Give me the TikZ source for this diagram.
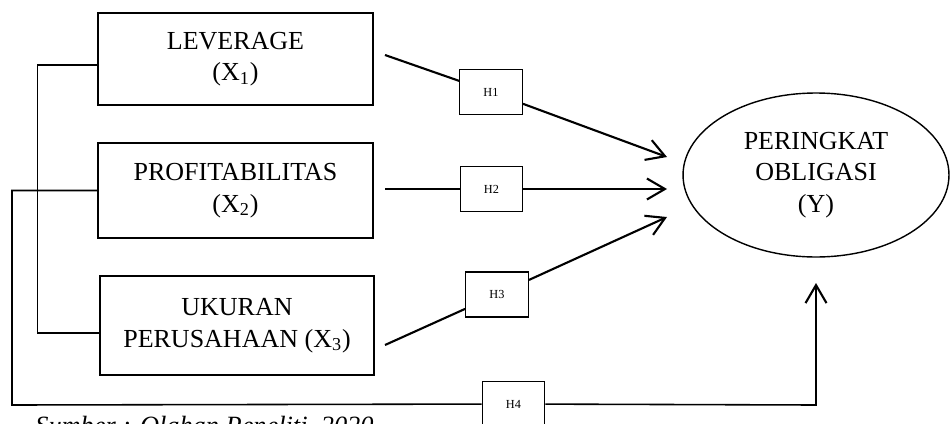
\documentclass[tikz,border=0pt]{standalone}
\usepackage{fontspec}
\setmainfont{Liberation Serif}
\usetikzlibrary{arrows.meta,shapes.geometric}

\begin{document}
\begin{tikzpicture}[x=0.02cm, y=-0.02cm,
    var/.style={draw, rectangle, line width=0.8pt, minimum width=5.5cm, align=center, font=\fontsize{14.8}{18}\selectfont},
    hyp/.style={draw, rectangle, line width=0.8pt, fill=white, minimum width=1.25cm, minimum height=0.9cm, font=\fontsize{7}{8}\selectfont},
    dep/.style={draw, ellipse, line width=0.8pt, minimum width=5.32cm, minimum height=3.28cm, inner sep=0pt, align=center, font=\fontsize{14.8}{18}\selectfont},
    path/.style={line width=1.2pt, -{Straight Barb[length=3.6mm, width=4.2mm, line width=1.2pt]}}]
    \useasboundingbox (0,0) rectangle (952,423);
    \clip (0,0) rectangle (952,423);

    \node[var, minimum height=1.84cm] (x1) at (235.5, 59) {LEVERAGE\\(X\textsubscript{1})};
    \node[var, minimum height=1.9cm] (x2) at (235.5, 190.5) {PROFITABILITAS\\(X\textsubscript{2})};
    \node[var, minimum height=1.98cm, minimum width=5.48cm] (x3) at (237, 325.5) {UKURAN\\PERUSAHAAN (X\textsubscript{3})};
    \node[dep] (y) at (816, 175) {PERINGKAT\\OBLIGASI\\(Y)};

    \node[hyp] (h1) at (491, 92) {H1};
    \node[hyp] (h2) at (491.5, 189) {H2};
    \node[hyp] (h3) at (497, 294.5) {H3};
    \node[hyp] (h4) at (513.5, 404) {H4};

    % ends of the hypothesis lines
    \coordinate (a1) at (385, 55);
    \coordinate (t1) at (667, 157);
    \coordinate (a2) at (385, 189);
    \coordinate (t2) at (667, 189);
    \coordinate (a3) at (385, 345);
    \coordinate (t3) at (667, 217);
    \coordinate (c1) at (12, 405);
    \coordinate (c2) at (816, 405);
    \coordinate (t4) at (816, 283);

    \draw [line width=1.2pt] (a1) -- (h1);
    \draw [path] (h1) -- (t1);
    \draw [line width=1.2pt] (a2) -- (h2);
    \draw [path] (h2) -- (t2);
    \draw [line width=1.2pt] (a3) -- (h3);
    \draw [path] (h3) -- (t3);

    % simultaneous test
    \draw [line width=0.9pt] ([yshift=-0.12cm]x1.west) -- ++(-1.2cm,0) |- ([yshift=-0.15cm]x3.west);
    \draw [line width=0.9pt] (x2.west) -| (c1) -- (h4);
    \draw [path, line width=0.9pt] (h4) -- (c2) -- (t4);

    \node[anchor=base west, inner sep=0pt, font=\fontsize{15}{18}\selectfont\itshape] (src) at (35, 434) {Sumber : Olahan Peneliti, 2020};
\end{tikzpicture}
\end{document}
